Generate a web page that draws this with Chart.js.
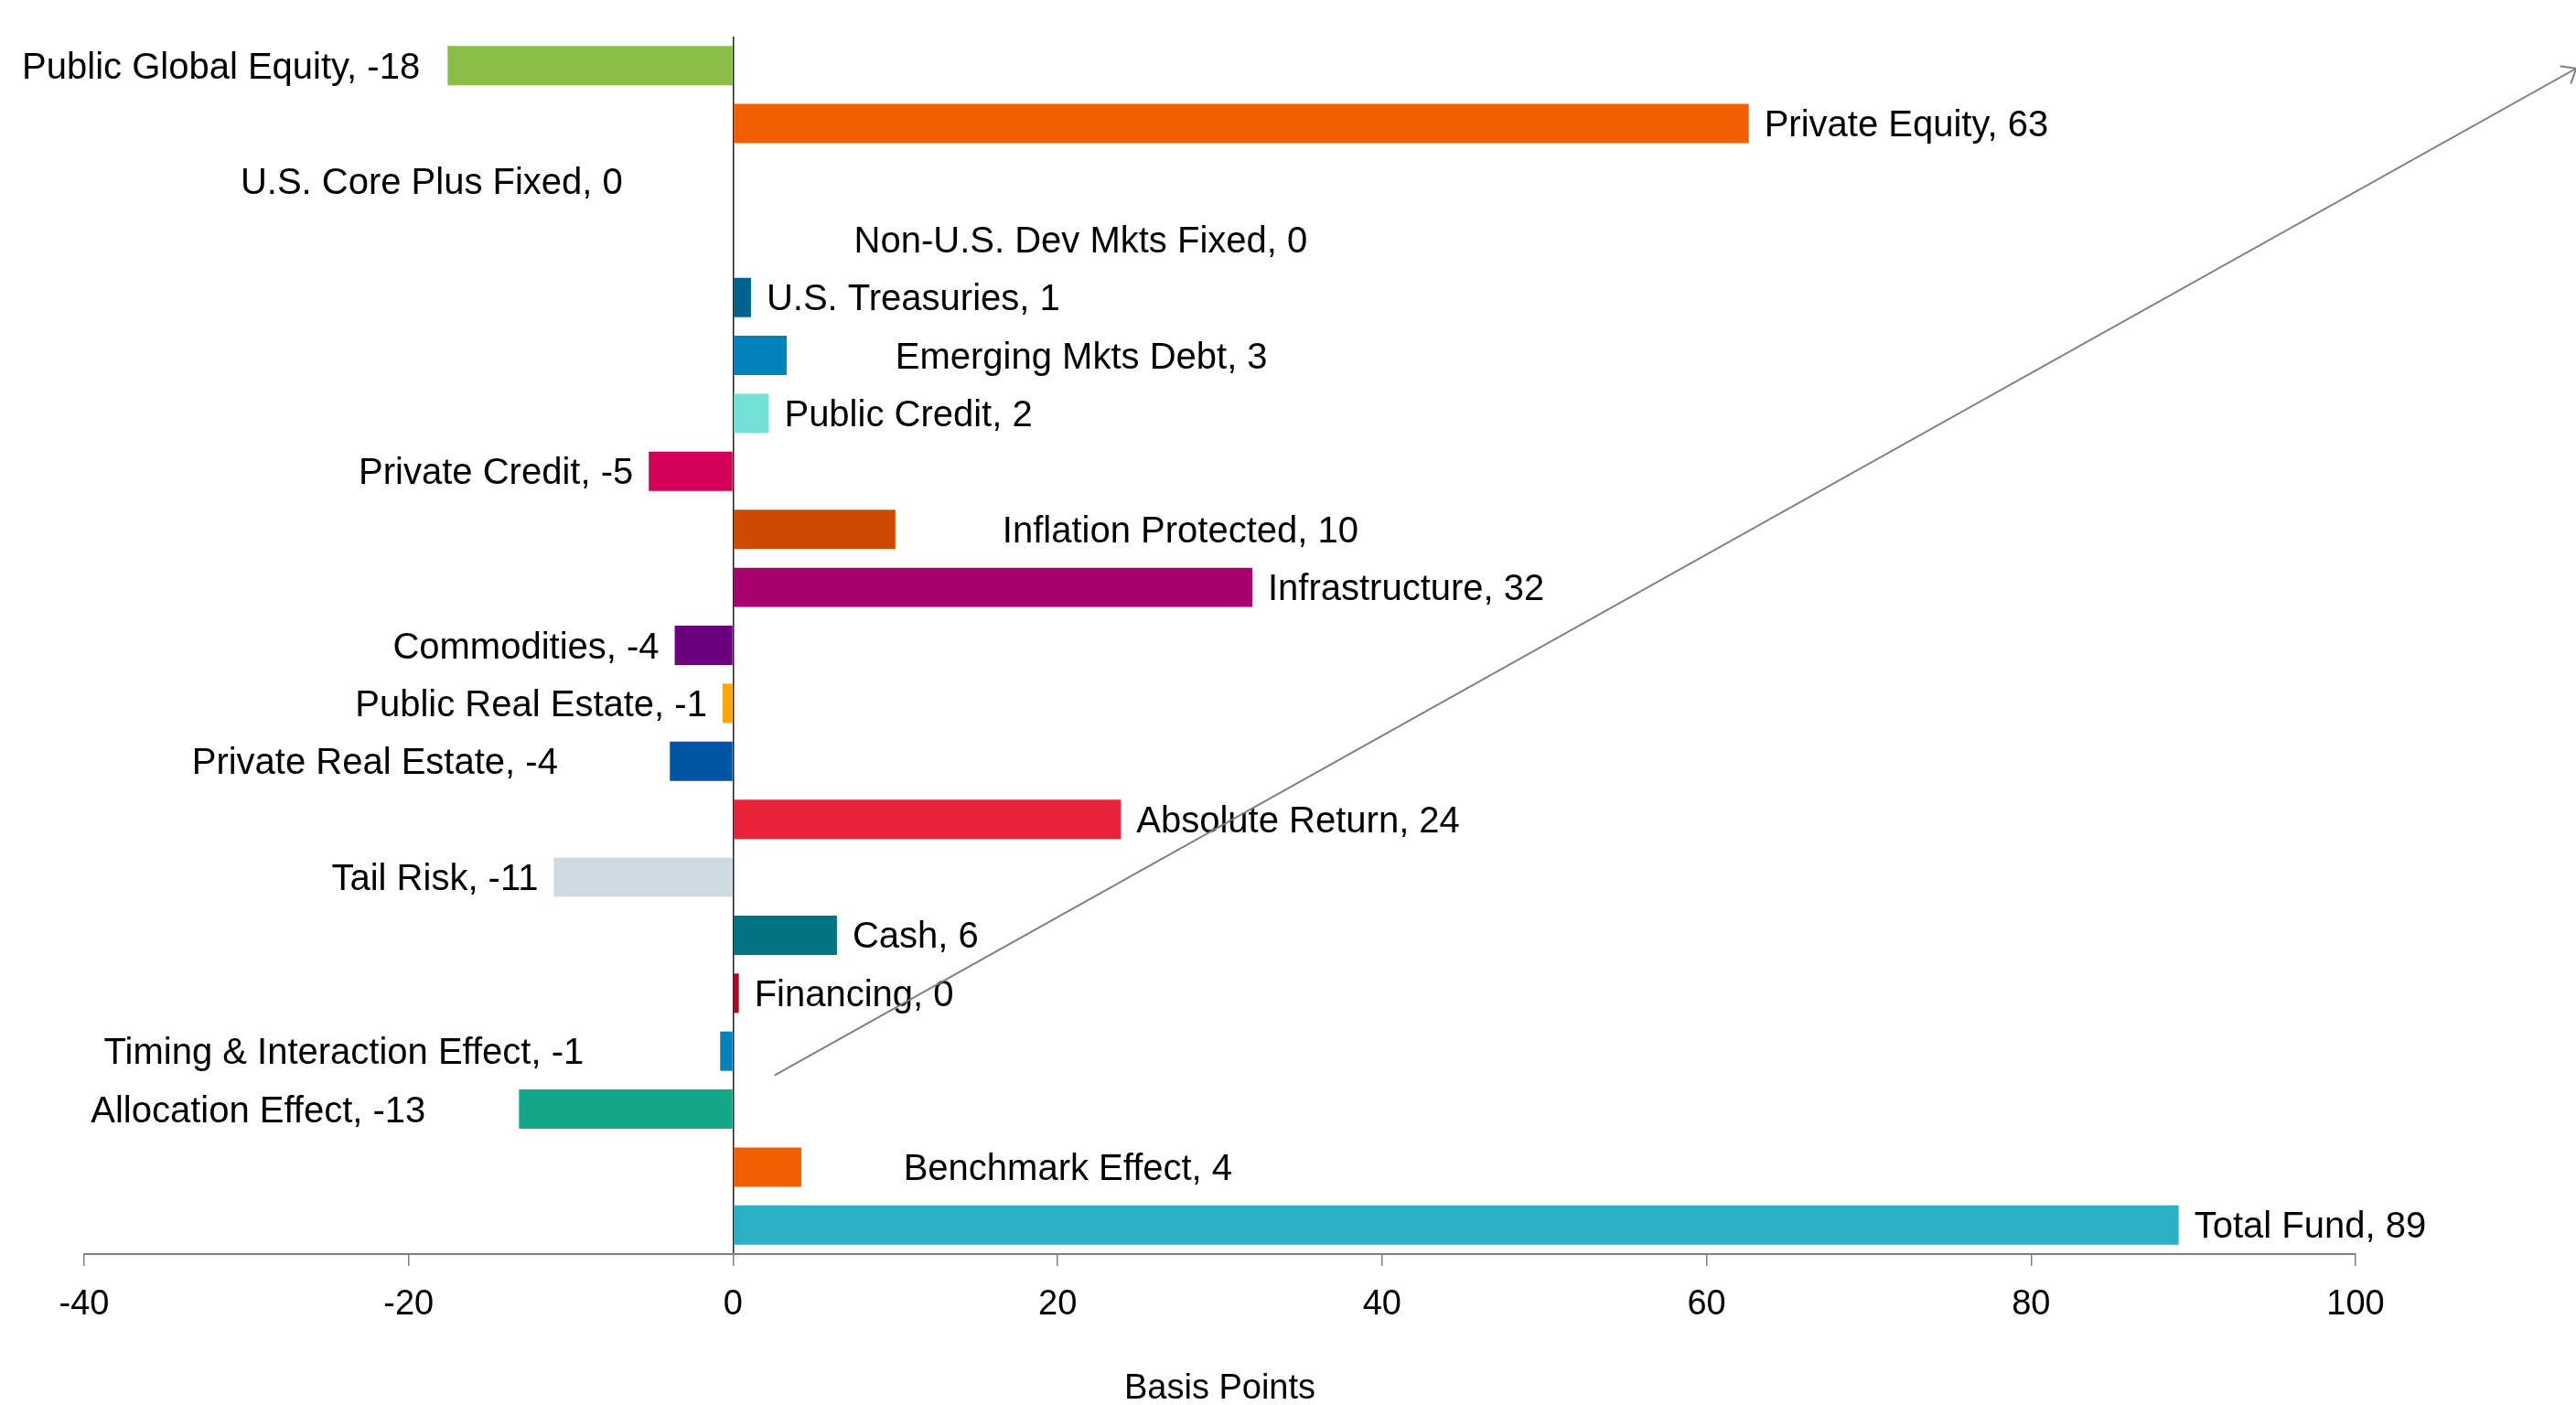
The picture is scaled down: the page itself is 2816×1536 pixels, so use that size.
<!DOCTYPE html>
<html>
<head>
<meta charset="utf-8">
<script src="https://cdn.jsdelivr.net/npm/chart.js@4/dist/chart.umd.min.js"></script>
<style>
    html, body { margin: 0; padding: 0; background: #fff; }
    #wrap { position: relative; width: 2816px; height: 1536px; }
</style>
</head>
<body>
<div id="wrap"><canvas id="myChart"></canvas></div>
<script>
const categories = [
    'Public Global Equity', 'Private Equity', 'U.S. Core Plus Fixed', 'Non-U.S. Dev Mkts Fixed',
    'U.S. Treasuries', 'Emerging Mkts Debt', 'Public Credit', 'Private Credit', 'Inflation Protected',
    'Infrastructure', 'Commodities', 'Public Real Estate', 'Private Real Estate', 'Absolute Return',
    'Tail Risk', 'Cash', 'Financing', 'Timing & Interaction Effect', 'Allocation Effect',
    'Benchmark Effect', 'Total Fund'
];
const values = [
    -17.6, 62.6, 0, 0,
    1.1, 3.3, 2.2, -5.2, 10.0,
    32.0, -3.6, -0.65, -3.9, 23.9,
    -11.05, 6.4, 0.35, -0.8, -13.2,
    4.2, 89.1
];
const barColors = [
    '#8bbe46', '#f25f00', '#8bbe46', '#8bbe46',
    '#00638f', '#0082bc', '#74e1d8', '#d20056', '#d04a02',
    '#a8006d', '#6a007d', '#ffa400', '#0054a6', '#e8233a',
    '#cddbe0', '#007482', '#b5001e', '#0082bc', '#13a88a',
    '#f25f00', '#2aafc4'
];
const xTicks = [-40, -20, 0, 20, 40, 60, 80, 100];

// labels that sit away from their bar end (axis units), null = right next to the bar
const labelAt = [
    -19.3, null, -6.8, 7.45,
    null, 10.0, null, null, 16.6,
    null, null, null, -10.8, null,
    null, null, null, -9.2, -18.95,
    10.5, null
];
// the grey arrow, x in axis units, y in category index
const arrowFrom = {x: 2.6, y: 17.41};
const arrowTo = {x: 113.6, y: 0.05};

const FONT = '"Liberation Sans", Arial, sans-serif';

const labelPlugin = {
    id: 'barLabels',
    afterDatasetsDraw(chart) {
        const {ctx, scales: {x, y}} = chart;
        ctx.save();
        ctx.font = '40px ' + FONT;
        ctx.fillStyle = '#000';
        ctx.textBaseline = 'alphabetic';
        categories.forEach((name, i) => {
            const v = values[i];
            let shown = Math.sign(v) * Math.round(Math.abs(v));
            if (shown === 0) shown = 0;
            const text = name + ', ' + shown;
            const cy = y.getPixelForValue(i) + 14;
            let px, align;
            if (labelAt[i] !== null) {
                px = x.getPixelForValue(labelAt[i]);
                align = labelAt[i] < 0 ? 'right' : 'left';
            } else if (v < 0) {
                px = x.getPixelForValue(v) - 17;
                align = 'right';
            } else {
                px = x.getPixelForValue(v) + 17;
                align = 'left';
            }
            ctx.textAlign = align;
            ctx.fillText(text, px, cy);
        });

        // arrow
        const x0 = x.getPixelForValue(arrowFrom.x), y0 = y.getPixelForValue(arrowFrom.y);
        const x1 = x.getPixelForValue(arrowTo.x), y1 = y.getPixelForValue(arrowTo.y);
        const ang = Math.atan2(y0 - y1, x0 - x1);
        ctx.strokeStyle = '#7f7f7f';
        ctx.lineWidth = 2;
        ctx.lineCap = 'round';
        ctx.beginPath();
        ctx.moveTo(x0, y0);
        ctx.lineTo(x1, y1);
        ctx.moveTo(x1 + 17 * Math.cos(ang + 0.65), y1 + 17 * Math.sin(ang + 0.65));
        ctx.lineTo(x1, y1);
        ctx.lineTo(x1 + 17 * Math.cos(ang - 0.72), y1 + 17 * Math.sin(ang - 0.72));
        ctx.stroke();
        ctx.restore();
    }
};

const ctx = document.getElementById('myChart');
new Chart(ctx, {
    type: 'bar',
    data: {
        labels: categories,
        datasets: [{
            data: values,
            backgroundColor: barColors,
            borderWidth: 0,
            barPercentage: 0.678,
            categoryPercentage: 1
        }]
    },
    options: {
        indexAxis: 'y',
        responsive: true,
        maintainAspectRatio: false,
        animation: false,
        layout: {padding: {left: 92, right: 241, top: 40, bottom: 0}},
        plugins: {
            legend: {display: false},
            tooltip: {enabled: false}
        },
        scales: {
            y: {
                type: 'category',
                display: false
            },
            x: {
                min: -40,
                max: 100,
                afterBuildTicks: s => { s.ticks = xTicks.map(v => ({value: v})); },
                afterFit: s => { s.height = 165; },
                border: {display: true, color: '#7f7f7f', width: 2},
                grid: {
                    color: c => (c.tick && c.tick.value === 0) ? '#1e1e1e' : 'rgba(0,0,0,0)',
                    lineWidth: 1.5,
                    tickColor: '#7f7f7f',
                    tickLength: 13,
                    tickWidth: 1.5,
                    drawTicks: true
                },
                ticks: {
                    color: '#000',
                    font: {family: FONT, size: 38},
                    padding: 20,
                    maxRotation: 0,
                    autoSkip: false
                },
                title: {
                    display: true,
                    text: 'Basis Points',
                    color: '#000',
                    font: {family: FONT, size: 38, lineHeight: 0.9},
                    padding: {top: 0, bottom: 0}
                }
            }
        }
    },
    plugins: [labelPlugin]
});
</script>
</body>
</html>
